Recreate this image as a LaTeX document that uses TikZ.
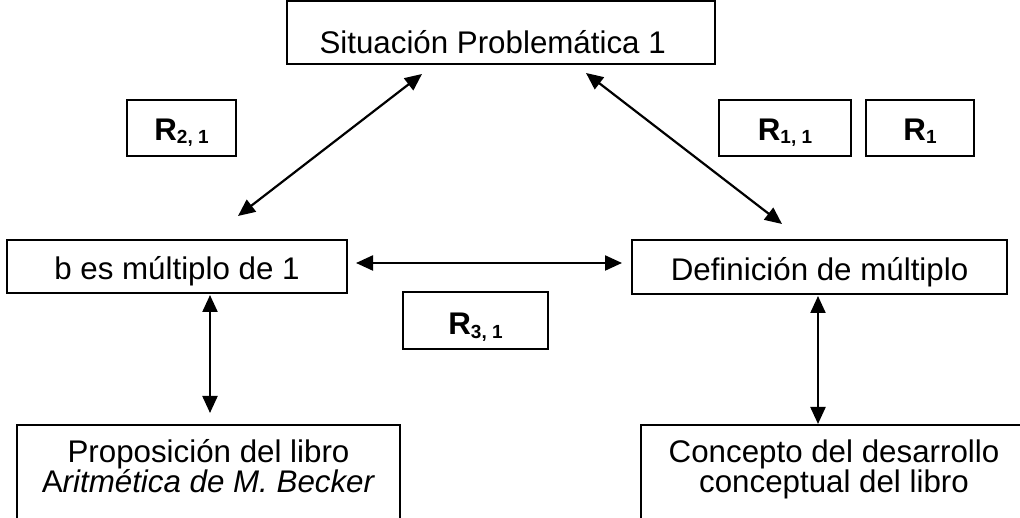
\documentclass[tikz,border=0pt]{standalone}
\usepackage{fontspec}
\setmainfont{Liberation Sans}
\usetikzlibrary{arrows.meta}
% bold relation label with a lowered, smaller index
\newcommand{\rellab}[2]{\textbf{#1\raisebox{-3.3pt}{\fontsize{19}{19}\selectfont\bfseries #2}}}
\begin{document}
\begin{tikzpicture}[x=1pt,y=1pt,
  box/.style={draw, line width=1.8pt, rectangle, inner sep=0pt,
    font=\fontsize{31.3}{29}\selectfont, text height=27pt, text depth=0pt},
  tallbox/.style={draw, line width=1.8pt, rectangle, inner sep=0pt,
    font=\fontsize{31.3}{29}\selectfont, align=center, anchor=north,
    text height=68pt, text depth=30pt},
  tip/.tip={Triangle[length=17pt,width=15pt]},
  link/.style={line width=2.2pt, tip-tip}]
\useasboundingbox (0,0) rectangle (1020,518);
\clip (0,0) rectangle (1020,518);

% boxes
\node[box, minimum width=428pt, minimum height=63pt, text height=41pt] (top) at (501,485.2)
  {Situación Problemática 1\hspace*{16.7pt}};
\node[box, minimum width=109pt, minimum height=56pt, text height=25.4pt] (r21) at (181.5,390) {\rellab{R}{2, 1}};
\node[box, minimum width=132pt, minimum height=56pt, text height=25.4pt] (r11) at (785,390) {\rellab{R}{1, 1}};
\node[box, minimum width=108pt, minimum height=56pt, text height=25.4pt] (r1) at (920,390) {\rellab{R}{1}};
\node[box, minimum width=340pt, minimum height=53pt] (mult) at (177,251.5) {b es múltiplo de 1};
\node[box, minimum width=375pt, minimum height=54pt] (def) at (819.5,251) {Definición de múltiplo};
\node[box, minimum width=145pt, minimum height=57pt, text height=29pt] (r31) at (475.5,197.5) {\rellab{R}{3, 1}};
\node[tallbox, minimum width=383pt] (prop) at (208.5,94)
  {Proposición del libro\\A\textit{ritmética de M. Becker}};
\node[tallbox, minimum width=386pt] (conc) at (834,94)
  {Concepto del desarrollo\\conceptual del libro};

% connector end points
\coordinate (d1a) at (238,302);
\coordinate (d1b) at (422,444);
\coordinate (d2a) at (586,445);
\coordinate (d2b) at (782,294);
\coordinate (h1a) at (356,255);
\coordinate (h1b) at (622,255);
\coordinate (v1a) at (210,223);
\coordinate (v1b) at (210,105);
\coordinate (v2a) at (818,222);
\coordinate (v2b) at (818,94);

% double-headed connectors
\draw[link] (d1a) -- (d1b);
\draw[link] (d2a) -- (d2b);
\draw[link] (h1a) -- (h1b);
\draw[link] (v1a) -- (v1b);
\draw[link] (v2a) -- (v2b);
\end{tikzpicture}
\end{document}
